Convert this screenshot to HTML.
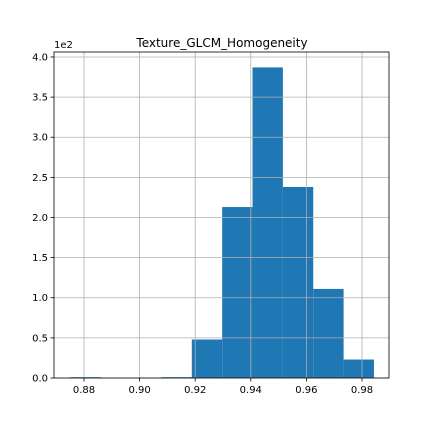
<!DOCTYPE html>
<html><head><meta charset="utf-8"><style>
body{margin:0;background:#fff}
svg{display:block;font-family:"DejaVu Sans","Liberation Sans",sans-serif}
</style></head><body>
<svg id="chart" width="432" height="432" viewBox="0 0 432 432">
<rect width="432" height="432" fill="#fff"/>
<g id="bars"></g>
<g id="grid"></g>
<g id="ticks"></g>
<rect x="54" y="52" width="335" height="326" fill="none" stroke="#000" stroke-width="0.8"/>
<text x="222" y="47" font-size="12" text-anchor="middle">Texture_GLCM_Homogeneity</text>
<text x="54" y="48" font-size="10">1e2</text>
</svg>
<script>
const binStart = 0.8751;
const binWidth = 0.01092;
const counts = [1, 0, 0, 1, 48, 213, 387, 238, 111, 23];
const xTicks = [0.88, 0.90, 0.92, 0.94, 0.96, 0.98];
const xTickLabels = ["0.88", "0.90", "0.92", "0.94", "0.96", "0.98"];
const yTicks = [0, 50, 100, 150, 200, 250, 300, 350, 400];
const yTickLabels = ["0.0", "0.5", "1.0", "1.5", "2.0", "2.5", "3.0", "3.5", "4.0"];
const NS = "http://www.w3.org/2000/svg";
const L = 54, R = 389, T = 52, B = 378;
const xMin = 0.86921, xMax = 0.98971, yMax = 406.2;
const sx = v => L + (v - xMin) / (xMax - xMin) * (R - L);
const sy = v => B - v / yMax * (B - T);
function mk(tag, attrs, parent) {
  const e = document.createElementNS(NS, tag);
  for (const k in attrs) e.setAttribute(k, attrs[k]);
  parent.appendChild(e);
  return e;
}
const bars = document.getElementById('bars');
counts.forEach((c, i) => {
  const x0 = sx(binStart + i * binWidth), x1 = sx(binStart + (i + 1) * binWidth);
  const r = mk('rect', {x: x0, y: sy(c), width: x1 - x0, height: B - sy(c), fill: '#1f77b4'}, bars);
  
  
});
const grid = document.getElementById('grid');
const ticks = document.getElementById('ticks');
xTicks.forEach((v, i) => {
  const x = sx(v);
  const g = mk('line', {x1: x, x2: x, y1: T, y2: B, stroke: '#b0b0b0', 'stroke-width': 0.8}, grid);
  
  
  mk('line', {x1: x, x2: x, y1: B, y2: B + 3.5, stroke: '#000', 'stroke-width': 0.8}, ticks);
  const t = mk('text', {x: x, y: B + 15, 'font-size': 10, 'text-anchor': 'middle'}, ticks);
  t.textContent = xTickLabels[i];
  
  
});
yTicks.forEach((v, i) => {
  const y = sy(v);
  const g = mk('line', {x1: L, x2: R, y1: y, y2: y, stroke: '#b0b0b0', 'stroke-width': 0.8}, grid);
  
  
  mk('line', {x1: L - 3.5, x2: L, y1: y, y2: y, stroke: '#000', 'stroke-width': 0.8}, ticks);
  const t = mk('text', {x: L - 6, y: y + 3.5, 'font-size': 10, 'text-anchor': 'end'}, ticks);
  t.textContent = yTickLabels[i];
  
  
});
</script>
</body></html>
